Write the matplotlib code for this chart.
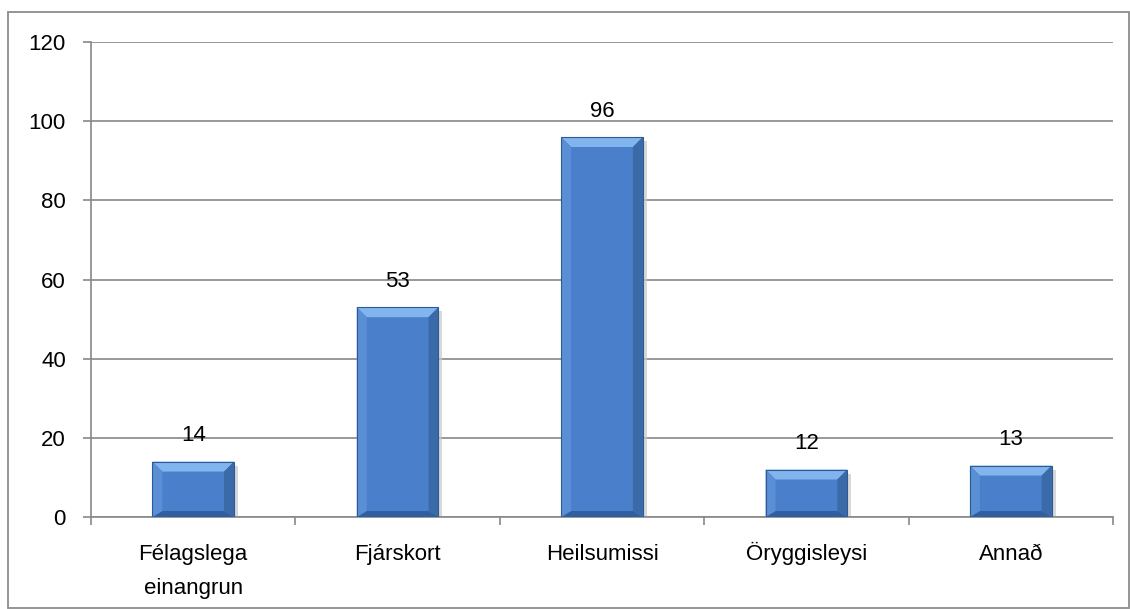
import matplotlib as mpl
mpl.use('Agg')
import numpy as np
import matplotlib.pyplot as plt
from matplotlib.patches import Polygon, Rectangle
from matplotlib.transforms import offset_copy

mpl.rcParams.update({
    'font.family': ['Liberation Sans', 'DejaVu Sans'],
    'font.size': 16,
})

categories = ['Félagslega\neinangrun', 'Fjárskort', 'Heilsumissi', 'Öryggisleysi', 'Annað']
values = [14, 53, 96, 12, 13]
yticks = [0, 20, 40, 60, 80, 100, 120]

fig = plt.figure(figsize=(11.3, 6.09), dpi=100)
ax = fig.add_axes([91 / 1130, 1 - 517 / 609, (1113 - 91) / 1130, (517 - 42) / 609])

# outer frame
fig.add_artist(Rectangle((8 / 1130, 0.002), 1 - 8 / 1130 - 0.001, 1 - 12 / 609 - 0.002,
                         transform=fig.transFigure, fill=False, ec='#8c8c8c', lw=1.3))

x = np.arange(len(values))
bars = ax.bar(x, values, width=0.4, color='#4a7fcb', zorder=3)

grey = '#888888'
ax.set_xlim(-0.5, len(values) - 0.5)
ax.set_ylim(0, 120)
ax.set_yticks(yticks)
ax.set_xticks(np.arange(len(values) + 1) - 0.5)
ax.set_xticklabels([])
ax.yaxis.grid(True, color=grey, lw=1.2, zorder=0)
ax.set_axisbelow(True)
for s in ['top', 'right']:
    ax.spines[s].set_visible(False)
for s in ['left', 'bottom']:
    ax.spines[s].set_color(grey)
    ax.spines[s].set_linewidth(1.2)
ax.tick_params(axis='y', length=6, color=grey, width=1.2, pad=12)
ax.tick_params(axis='x', length=6, color=grey, width=1.2)

# category labels, one text per line so every first line shares a baseline
for i, lab in enumerate(categories):
    for j, line in enumerate(lab.split('\n')):
        tr = offset_copy(ax.get_xaxis_transform(), fig=fig, y=-(43 + 34 * j), units='dots')
        ax.text(x[i], 0, line, transform=tr, ha='center', va='baseline')

fig.canvas.draw()
inv = ax.transData.inverted()
bev = 10  # bevel size in pixels
for b, v in zip(bars, values):
    x0, y0 = ax.transData.transform((b.get_x(), 0))
    x1, y1 = ax.transData.transform((b.get_x() + b.get_width(), v))
    # shadow
    sh = [(x0 + 4, y0 - 4), (x1 + 4, y0 - 4), (x1 + 4, y1 - 4), (x1, y1 - 4), (x1, y0), (x0 + 4, y0)]
    ax.add_patch(Polygon(inv.transform(sh), closed=True, fc='#c8c8c8', ec='none', alpha=0.7, zorder=2))
    ix0, ix1, iy0, iy1 = x0 + bev, x1 - bev, y0 + bev * 0.6, y1 - bev
    top = [(x0, y1), (x1, y1), (ix1, iy1), (ix0, iy1)]
    bot = [(x0, y0), (x1, y0), (ix1, iy0), (ix0, iy0)]
    left = [(x0, y0), (x0, y1), (ix0, iy1), (ix0, iy0)]
    right = [(x1, y0), (x1, y1), (ix1, iy1), (ix1, iy0)]
    for poly, c in [(top, '#82b4ee'), (bot, '#2f5f9e'), (left, '#5a8fd6'), (right, '#3a6aa8')]:
        ax.add_patch(Polygon(inv.transform(poly), closed=True, fc=c, ec='none', zorder=4))
    ax.add_patch(Rectangle((b.get_x(), 0), b.get_width(), v, fill=False, ec='#2d5a92', lw=0.8, zorder=5))
    ax.annotate(str(v), (b.get_x() + b.get_width() / 2, v), xytext=(0, 14.5),
                textcoords='offset points', ha='center', va='baseline', zorder=6)

fig.savefig('out.png', dpi=100)
